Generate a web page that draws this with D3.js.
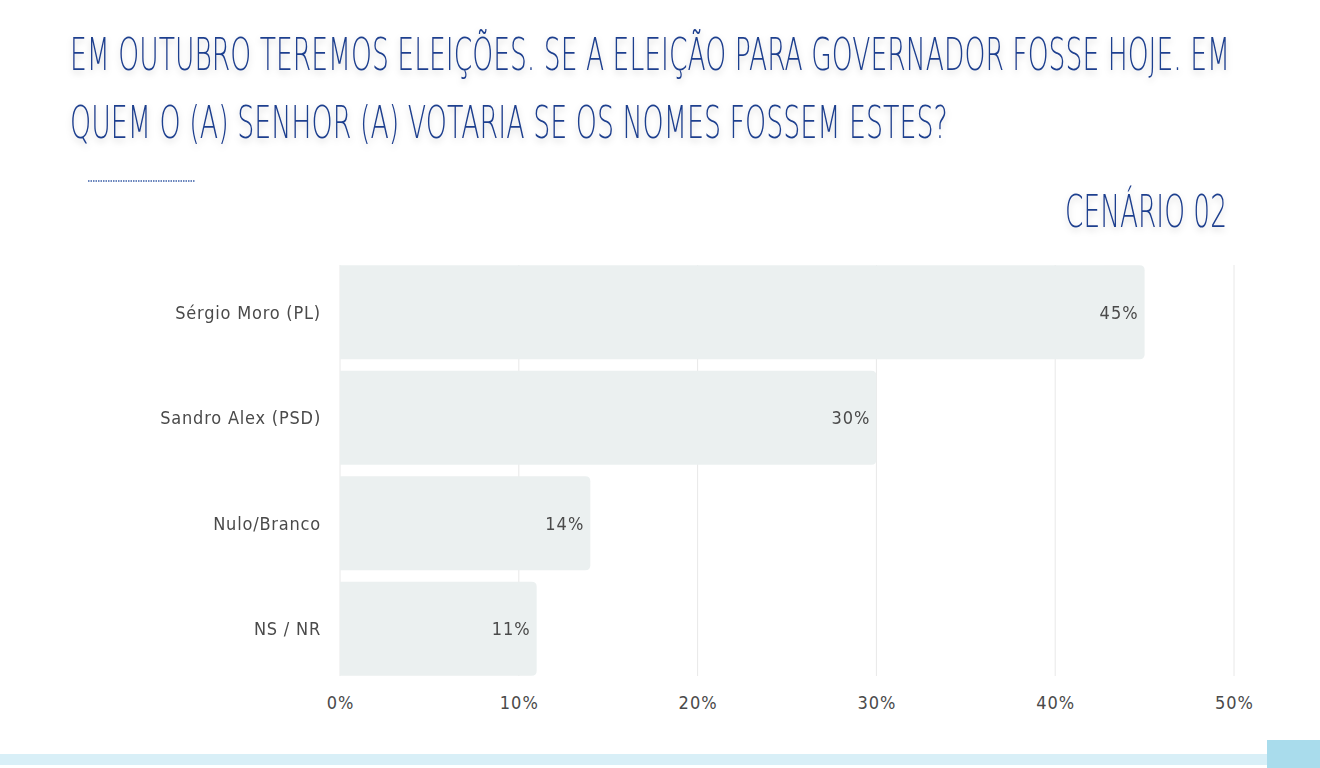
<!DOCTYPE html>
<html>
<head>
<meta charset="utf-8">
<script src="https://cdn.jsdelivr.net/npm/d3@7"></script>
<style>
  body { margin: 0; background: #fff; }
  svg { display: block; }
  .title { font-family: "DejaVu Sans", sans-serif; font-weight: 200; fill: #1f3f8e; }
  .lbl { font-family: "DejaVu Sans Condensed", "DejaVu Sans", sans-serif; font-stretch: condensed; fill: #4a4a4a; }
</style>
</head>
<body>
<svg id="chart" width="1320" height="768"></svg>
<script>
const categories = ['Sérgio Moro (PL)', 'Sandro Alex (PSD)', 'Nulo/Branco', 'NS / NR'];
const values = [45, 30, 14, 11];
const valueLabels = ['45%', '30%', '14%', '11%'];
const ticks = [0, 10, 20, 30, 40, 50];
const titleLines = [
  'EM OUTUBRO TEREMOS ELEIÇÕES. SE A ELEIÇÃO PARA GOVERNADOR  FOSSE HOJE. EM',
  'QUEM O (A) SENHOR (A) VOTARIA SE OS NOMES FOSSEM ESTES?'
];
const subtitle = 'CENÁRIO 02';

const svg = d3.select('#chart');

// shadow for the titles, applied on an untransformed group
const defs = svg.append('defs');
const f = defs.append('filter').attr('id', 'shadow')
  .attr('filterUnits', 'userSpaceOnUse')
  .attr('x', 0).attr('y', 0).attr('width', 1320).attr('height', 768);
f.append('feDropShadow').attr('dx', 0).attr('dy', 3).attr('stdDeviation', 3)
  .attr('flood-color', '#000').attr('flood-opacity', 0.18);

const titles = svg.append('g').attr('filter', 'url(#shadow)');

// squeeze a text horizontally so it spans the given width from x0
function fitWidth(sel, x0, yb, w) {
  const natural = sel.node().getComputedTextLength();
  const sx = w / natural;
  sel.attr('x', 0).attr('y', 0)
    .attr('transform', `translate(${x0},${yb}) scale(${sx},1)`);
}

const titleWidths = [1160, 878];
titles.selectAll('.title-line')
  .data(titleLines)
  .enter()
  .append('text')
  .attr('class', 'title')
  .attr('font-size', 44)
  .text(d => d)
  .each(function (d, i) { fitWidth(d3.select(this), 70, 70 + i * 68, titleWidths[i]); });

const sub = titles.append('text')
  .attr('class', 'title')
  .attr('font-size', 44)
  .text(subtitle);
fitWidth(sub, 1065, 227, 162);

svg.append('line')
  .attr('x1', 88).attr('x2', 195).attr('y1', 181).attr('y2', 181)
  .attr('stroke', '#3a5fa8').attr('stroke-width', 1.5)
  .attr('stroke-dasharray', '1.5,1');

// scales
const x = d3.scaleLinear().domain([0, 50]).range([340, 1234]);
const y = d3.scaleBand().domain(categories).range([260, 681]).paddingInner(0.11).paddingOuter(0.05);

// grid
svg.append('g')
  .selectAll('line')
  .data(ticks)
  .enter()
  .append('line')
  .attr('x1', d => x(d)).attr('x2', d => x(d))
  .attr('y1', 265).attr('y2', 676)
  .attr('stroke', '#e8e8e8')
  .attr('stroke-width', 1);

// bars: rounded at the right end only
const r = 5;
function barPath(d, i) {
  const x0 = x(0), x1 = x(d), y0 = y(categories[i]), h = y.bandwidth();
  return `M${x0},${y0}H${x1 - r}Q${x1},${y0} ${x1},${y0 + r}V${y0 + h - r}Q${x1},${y0 + h} ${x1 - r},${y0 + h}H${x0}Z`;
}
svg.append('g')
  .selectAll('path')
  .data(values)
  .enter()
  .append('path')
  .attr('d', barPath)
  .attr('fill', '#ebf0f0');

// value labels
svg.append('g')
  .selectAll('text')
  .data(values)
  .enter()
  .append('text')
  .attr('class', 'lbl')
  .attr('x', d => x(d) - 6)
  .attr('y', (d, i) => y(categories[i]) + y.bandwidth() / 2)
  .attr('dy', '0.35em')
  .attr('text-anchor', 'end')
  .attr('font-size', 18)
  .attr('letter-spacing', 1)
  .text((d, i) => valueLabels[i]);

// category labels
svg.append('g')
  .selectAll('text')
  .data(categories)
  .enter()
  .append('text')
  .attr('class', 'lbl')
  .attr('x', 321)
  .attr('y', d => y(d) + y.bandwidth() / 2)
  .attr('dy', '0.35em')
  .attr('text-anchor', 'end')
  .attr('font-size', 18)
  .attr('letter-spacing', 0.8)
  .text(d => d);

// x axis
const xAxis = d3.axisBottom(x).tickValues(ticks).tickFormat(d => d + '%').tickSize(0).tickPadding(0);
const ax = svg.append('g').attr('transform', 'translate(0,703)').call(xAxis);
ax.select('.domain').remove();
ax.selectAll('text')
  .attr('class', 'lbl')
  .attr('dy', '0.35em')
  .attr('font-size', 18)
  .attr('letter-spacing', 1);

// bottom band
svg.append('rect').attr('x', 0).attr('y', 754).attr('width', 1320).attr('height', 11).attr('fill', '#d8eff7');
svg.append('rect').attr('x', 1267).attr('y', 740).attr('width', 53).attr('height', 28).attr('fill', '#a9dcec');
</script>
</body>
</html>
